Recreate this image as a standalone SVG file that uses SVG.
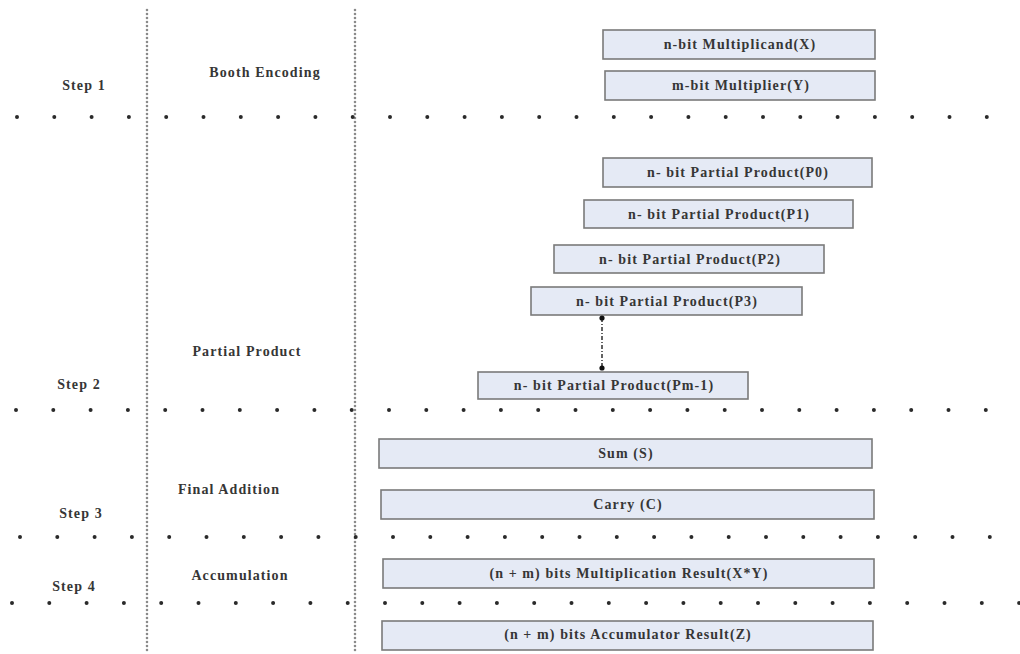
<svg xmlns="http://www.w3.org/2000/svg" width="1020" height="654" viewBox="0 0 1020 654">
<style>
.bg{fill:#ffffff}
.vline{stroke:#8a8a8a;stroke-width:2.6;stroke-linecap:round;stroke-dasharray:0 4;fill:none}
.hrow{stroke:#2a2a2a;stroke-width:4;stroke-linecap:round;stroke-dasharray:0 37.3;fill:none}
.box rect{fill:#e5eaf5;stroke:#7a7a7a;stroke-width:1.6}
.box text,.lbl{font-family:"Liberation Serif","Times New Roman",serif;font-weight:bold;font-size:14px;letter-spacing:1.1px;fill:#363636;text-anchor:middle}
.conn{stroke:#222;stroke-width:1.4;stroke-dasharray:4 2 1 2;fill:none}
.end{fill:#111}
</style>
<rect class="bg" x="0" y="0" width="1020" height="654"/>
<g id="grid">
<line class="vline" x1="147" y1="10" x2="147" y2="654"/>
<line class="vline" x1="355" y1="10" x2="355" y2="654"/>
<line class="hrow" x1="17" y1="117" x2="990" y2="117"/>
<line class="hrow" x1="16" y1="410" x2="1020" y2="410"/>
<line class="hrow" x1="20" y1="537" x2="992" y2="537"/>
<line class="hrow" x1="12" y1="603" x2="1020" y2="603"/>
</g>
<g id="labels">
<text class="lbl" x="84" y="90">Step 1</text>
<text class="lbl" x="265" y="77">Booth Encoding</text>
<text class="lbl" x="247" y="356">Partial Product</text>
<text class="lbl" x="79" y="389">Step 2</text>
<text class="lbl" x="229" y="494">Final Addition</text>
<text class="lbl" x="81" y="518">Step 3</text>
<text class="lbl" x="240" y="580">Accumulation</text>
<text class="lbl" x="74" y="591">Step 4</text>
</g>
<g id="multiplicand" class="box"><rect x="603" y="30" width="272" height="29"/><text x="740" y="49">n-bit Multiplicand(X)</text></g>
<g id="multiplier" class="box"><rect x="605" y="71" width="270" height="29"/><text x="741" y="90">m-bit Multiplier(Y)</text></g>
<g id="p0" class="box"><rect x="603" y="158" width="269" height="29"/><text x="738" y="177">n- bit Partial Product(P0)</text></g>
<g id="p1" class="box"><rect x="584" y="200" width="269" height="28"/><text x="719" y="219">n- bit Partial Product(P1)</text></g>
<g id="p2" class="box"><rect x="554" y="245" width="270" height="28"/><text x="690" y="264">n- bit Partial Product(P2)</text></g>
<g id="p3" class="box"><rect x="531" y="287" width="271" height="28"/><text x="667" y="306">n- bit Partial Product(P3)</text></g>
<g id="pm1" class="box"><rect x="478" y="372" width="270" height="27"/><text x="614" y="390">n- bit Partial Product(Pm-1)</text></g>
<g id="sum" class="box"><rect x="379" y="439" width="493" height="29"/><text x="626" y="458">Sum (S)</text></g>
<g id="carry" class="box"><rect x="381" y="490" width="493" height="29"/><text x="628" y="509">Carry (C)</text></g>
<g id="mult-result" class="box"><rect x="383" y="559" width="491" height="29"/><text x="629" y="578">(n + m) bits Multiplication Result(X*Y)</text></g>
<g id="acc-result" class="box"><rect x="382" y="621" width="491" height="29"/><text x="628" y="639">(n + m) bits Accumulator Result(Z)</text></g>
<g id="connectors">
<line class="conn" x1="602" y1="318" x2="602" y2="368"/>
<circle class="end" cx="602" cy="318" r="2.6"/>
<circle class="end" cx="602" cy="368" r="2.6"/>
</g>
</svg>
